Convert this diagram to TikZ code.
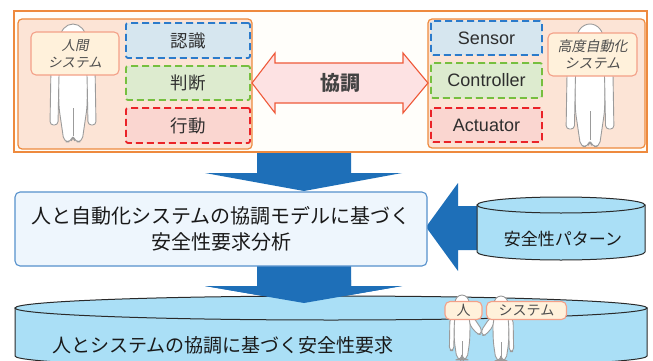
\documentclass[tikz,border=0pt]{standalone}
\usepackage{fontspec}
\setmainfont{Noto Sans CJK JP}
\newfontfamily\latinsans{Liberation Sans}
\newfontfamily\slantjp{Noto Sans CJK JP}[FakeSlant=0.2]
\usetikzlibrary{calc}

\definecolor{orangeline}{HTML}{EE8A3E}
\definecolor{framefill}{HTML}{FFFEFA}
\definecolor{panelfill}{HTML}{FCE4D6}
\definecolor{bluedash}{HTML}{2B7BCB}
\definecolor{bluefill}{HTML}{D6E6EF}
\definecolor{greendash}{HTML}{76BF3F}
\definecolor{greenfill}{HTML}{DDEBCF}
\definecolor{reddash}{HTML}{EA2328}
\definecolor{redfill}{HTML}{FAD6D0}
\definecolor{tagfill}{HTML}{FFF1DB}
\definecolor{tagline}{HTML}{F3A088}
\definecolor{dblfill}{HTML}{FDE2E3}
\definecolor{dblline}{HTML}{EF5A3A}
\definecolor{arrowblue}{HTML}{1E6FB8}
\definecolor{boxfill}{HTML}{EEF6FD}
\definecolor{boxline}{HTML}{5691CC}
\definecolor{cylfill}{HTML}{AADFF6}
\definecolor{cylline}{HTML}{2A2A2A}
\definecolor{figline}{HTML}{9B9B9B}
\definecolor{textdark}{HTML}{2E2E2E}

\tikzset{
  frame/.style={draw=orangeline, line width=1.2pt, fill=framefill, inner sep=0pt},
  panel/.style={draw=orangeline, line width=1.2pt, fill=panelfill, rounded corners=4pt, inner sep=0pt},
  dashbox/.style={line width=1.8pt, dash pattern=on 7pt off 4pt, rounded corners=2pt, inner sep=0pt,
    text=textdark, font=\fontsize{17.5}{20}\selectfont},
  bluebox/.style={dashbox, draw=bluedash, fill=bluefill},
  greenbox/.style={dashbox, draw=greendash, fill=greenfill},
  redbox/.style={dashbox, draw=reddash, fill=redfill},
  latinbox/.style={font=\latinsans\fontsize{18}{21}\selectfont},
  tag/.style={draw=tagline, line width=1.1pt, fill=tagfill, rounded corners=5pt, inner sep=0pt,
    text=textdark!85, align=center},
  figure/.style={draw=figline, fill=white, line width=0.9pt, line join=round},
  blockarrow/.style={fill=arrowblue},
  cyl/.style={draw=cylline, line width=1pt, fill=cylfill},
  person/.pic={
    \filldraw[figure] (-5,20) rectangle (5,40);
    \filldraw[figure, rounded corners=5] (-2,118) -- (-9,118) -- (-14,84) -- (-15,40) -- (-9,33)
      -- (9,33) -- (15,40) -- (14,84) -- (9,118) -- (2,118) -- (0,112) -- cycle;
    \draw[figline, line width=0.9pt] (0,84) -- (0,112);
    \filldraw[figure, rounded corners=3.5] (-12,36) -- (-22,42) -- (-23,101) -- (-15,101) -- (-14,50) -- cycle;
    \filldraw[figure, rounded corners=3.5] (12,36) -- (22,42) -- (23,101) -- (15,101) -- (14,50) -- cycle;
    \filldraw[figure] (0,15) ellipse[x radius=13, y radius=15];
  },
  shaker/.pic={
    \filldraw[figure] (-5,20) rectangle (5,40);
    \filldraw[figure, rounded corners=5] (-2,118) -- (-9,118) -- (-14,84) -- (-15,40) -- (-9,33)
      -- (9,33) -- (15,40) -- (14,84) -- (9,118) -- (2,118) -- (0,112) -- cycle;
    \draw[figline, line width=0.9pt] (0,84) -- (0,112);
    \filldraw[figure, rounded corners=3.5] (-12,36) -- (-22,42) -- (-23,101) -- (-15,101) -- (-14,50) -- cycle;
    \filldraw[figure, rounded corners=3] (12,36) -- (22,42) -- (36,63) -- (34,72) -- (28,71) -- (15,56) -- cycle;
    \filldraw[figure] (0,15) ellipse[x radius=13, y radius=15];
  }
}

\begin{document}
\begin{tikzpicture}[x=1pt, y=-1pt]
\useasboundingbox (0,0) rectangle (653,361);
\clip (0,0) rectangle (653,361);
\fill[white] (0,0) rectangle (653,361);

% arrow from the cooperation model down to the analysis
\fill[blockarrow] (257,150) -- (351,150) -- (351,173) -- (402,173) -- (304,191)
  -- (205,173) -- (257,173) -- cycle;

% upper frame with both systems
\node[frame, minimum width=633pt, minimum height=141pt] (frame) at (330.5,81.5) {};
\node[panel, minimum width=234pt, minimum height=130pt] (human) at (135,84) {};
\node[panel, minimum width=217pt, minimum height=129pt] (auto) at (536.5,83.5) {};

% human system
\pic at (73,24) {person};
\node[bluebox, minimum width=124pt, minimum height=35pt] (ninshiki) at (188,40.5) {認識};
\node[greenbox, minimum width=124pt, minimum height=34pt] (handan) at (188,83) {判断};
\node[redbox, minimum width=124pt, minimum height=35pt] (koudou) at (188,125.5) {行動};
\node[tag, minimum width=88pt, minimum height=43pt, font=\slantjp\fontsize{13.5}{17}\selectfont]
  (humantag) at (75,53.5) {人間\\システム};

% highly automated system
\pic[scale=1.04] at (590,24) {person};
\node[bluebox, latinbox, minimum width=111pt, minimum height=34pt] (sensor) at (486.5,38) {Sensor};
\node[greenbox, latinbox, minimum width=111pt, minimum height=35pt] (controller) at (486.5,80.5) {Controller};
\node[redbox, latinbox, minimum width=111pt, minimum height=34pt] (actuator) at (486.5,125) {Actuator};
\node[tag, minimum width=89pt, minimum height=43pt, font=\slantjp\fontsize{14}{17}\selectfont]
  (autotag) at (592.5,54.5) {高度自動化\\システム};

% cooperation double arrow
\filldraw[fill=dblfill, draw=dblline, line width=1.1pt, line join=miter]
  (252,83) -- (275,53) -- (275,63) -- (403,63) -- (403,53) -- (428,83)
  -- (403,113) -- (403,103) -- (275,103) -- (275,113) -- cycle;
\node[font=\bfseries\fontsize{20}{24}\selectfont, text=textdark!90] (kyouchou) at (340,83) {協調};

% arrow from the pattern store into the analysis
\fill[blockarrow] (479,206) -- (458,206) -- (458,183) -- (426,227) -- (458,271)
  -- (458,250) -- (479,250) -- cycle;

% analysis box
\fill[blockarrow] (257,262) -- (351,262) -- (351,286) -- (402,286) -- (304,303)
  -- (205,286) -- (257,286) -- cycle;
\node[draw=boxline, line width=1.1pt, fill=boxfill, rounded corners=5pt, inner sep=0pt,
  minimum width=412pt, minimum height=74pt, align=center, text=black!90,
  font=\fontsize{20}{26}\selectfont] (analysis) at (221,229)
  {人と自動化システムの協調モデルに基づく\\安全性要求分析};

% safety pattern store
\filldraw[cyl] (477,205) -- (477,252) arc[start angle=180, end angle=0, x radius=84, y radius=8]
  -- (645,205) -- cycle;
\filldraw[cyl] (561,205) ellipse[x radius=84, y radius=8];
\node[font=\fontsize{17}{20}\selectfont, text=black!90] (pattern) at (563,239) {安全性パターン};

% resulting requirements store
\filldraw[cyl] (15,308) -- (15,356) arc[start angle=180, end angle=0, x radius=316, y radius=12]
  -- (647,308) -- cycle;
\filldraw[cyl] (331,308) ellipse[x radius=316, y radius=12];
\node[anchor=west, font=\fontsize{19}{22}\selectfont, text=black!90] (requirement) at (49,345)
  {人とシステムの協調に基づく安全性要求};

% second block arrow over the store lid
\fill[blockarrow] (257,280) -- (351,280) -- (351,286) -- (402,286) -- (304,303)
  -- (205,286) -- (257,286) -- cycle;

% handshake
\pic[scale=0.55] at (462,295) {shaker};
\pic[xscale=-0.55, yscale=0.55] at (501,296) {shaker};
\node[tag, minimum width=37pt, minimum height=18pt, font=\fontsize{14}{16}\selectfont]
  (hito) at (463.5,310.5) {人};
\node[tag, minimum width=80pt, minimum height=18pt, font=\fontsize{14}{16}\selectfont]
  (system) at (526.5,310.5) {システム};
\end{tikzpicture}
\end{document}
